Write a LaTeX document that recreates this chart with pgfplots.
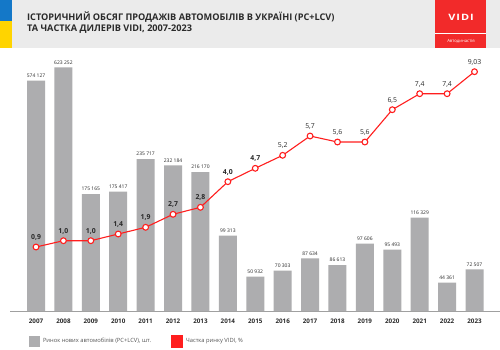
\documentclass[border=0pt]{standalone}
\usepackage{pgfplots}
\pgfplotsset{compat=1.18}
\usepackage{pgfplotstable}
\usepackage{fontspec}
\setmainfont{Open Sans}
\definecolor{hdrgrey}{HTML}{EBEBEB}
\definecolor{uablue}{HTML}{1478C8}
\definecolor{uayellow}{HTML}{FFD400}
\definecolor{vidired}{HTML}{F22A2A}
\definecolor{lred}{HTML}{FF1E1E}
\definecolor{bargrey}{HTML}{ADADAF}
\definecolor{axgrey}{HTML}{A0A0A0}
\definecolor{txt}{HTML}{2A2A2A}
\definecolor{legtxt}{HTML}{555555}

% bar heights as drawn (the chart is not to scale), labels are the sales
\pgfplotstableread[col sep=semicolon]{
idx;h;label
0;230.3;574 127
1;243.6;623 252
2;117;175 165
3;119.3;175 417
4;152;235 717
5;145.7;232 184
6;139;216 170
7;75.3;99 313
8;34.3;50 932
9;40.3;70 303
10;52.7;87 634
11;46;86 613
12;67.3;97 606
13;61.3;95 493
14;93.3;116 329
15;28.3;44 361
16;41.7;72 507
}\bars

\pgfplotstableread[col sep=semicolon]{
idx;h;label
0;64;\textbf{0,9}
1;70.3;\textbf{1,0}
2;70.3;\textbf{1,0}
3;77;\textbf{1,4}
4;83.7;\textbf{1,9}
5;96.7;\textbf{2,7}
6;103.7;\textbf{2,8}
7;129.3;\textbf{4,0}
8;142.7;\textbf{4,7}
9;155.7;5,2
10;175;5,7
11;169;5,6
12;169;5,6
13;201.3;6,5
14;217.3;7,4
15;217.3;7,4
16;239.3;9,03
}\share

\begin{document}
\begin{tikzpicture}
\path[use as bounding box] (0,0) rectangle (500bp,-350bp);
\fill[white] (0,0) rectangle (500bp,-350bp);
% header
\fill[hdrgrey] (0,0) rectangle (500bp,-47.5bp);
\fill[uablue] (0,0) rectangle (11.5bp,-21bp);
\fill[uayellow] (0,-21bp) rectangle (11.5bp,-47.5bp);
\node[anchor=base west, inner sep=0, text=txt, font=\bfseries\fontsize{9.2}{11}\selectfont] at (27bp,-20bp) {ІСТОРИЧНИЙ ОБСЯГ ПРОДАЖІВ АВТОМОБІЛІВ В УКРАЇНІ (PC+LCV)};
\node[anchor=base west, inner sep=0, text=txt, font=\bfseries\fontsize{9.2}{11}\selectfont] at (27bp,-31.7bp) {ТА ЧАСТКА ДИЛЕРІВ VIDI, 2007-2023};
% logo
\fill[vidired] (435bp,0) rectangle (486bp,-47.5bp);
\draw[white, line width=0.6bp] (435bp,-33bp) -- (486bp,-33bp);
\node[text=white, inner sep=0, xscale=1.25, font=\bfseries\fontsize{8.8}{9}\selectfont] at (461bp,-17.5bp) {V\kern0.8bp I\kern0.8bp D\kern0.8bp I};
\node[text=white, inner sep=0, font=\fontsize{4.3}{5}\selectfont] at (461bp,-41bp) {Автодинастія};

\begin{axis}[
  at={(10bp,-311bp)}, anchor=south west,
  scale only axis, width=490bp, height=250bp,
  xmin=-0.949, xmax=16.93, ymin=0, ymax=250,
  axis x line=bottom, axis y line=none,
  x axis line style={draw=axgrey, line width=0.9bp, -},
  xtick={0,...,16},
  xticklabels={2007,2008,2009,2010,2011,2012,2013,2014,2015,2016,2017,2018,2019,2020,2021,2022,2023},
  major tick length=0pt,
  xticklabel style={anchor=base, yshift=-12.3bp, text=txt, font=\bfseries\fontsize{6.3}{7}\selectfont},
  clip=false,
  legend columns=2,
  legend style={at={(0.0388,-0.122)}, anchor=west, draw=none, fill=none, inner sep=0pt,
     font=\fontsize{5.8}{6.5}\selectfont, text=legtxt,
     nodes={inner sep=2.8bp},
     /tikz/every even column/.append style={column sep=17bp}},
  legend cell align=left,
]
\addplot[ybar, bar width=18bp, fill=bargrey, draw=none,
  point meta=explicit symbolic, nodes near coords={\pgfplotspointmeta},
  nodes near coords style={font=\fontsize{5}{6}\selectfont, text=txt, anchor=base, yshift=3.2bp, inner sep=0pt},
  legend image code/.code={\fill[bargrey] (0bp,-5.5bp) rectangle (11bp,5.5bp);}]
  table[x=idx, y=h, meta=label] \bars;
\addlegendentry{Ринок нових автомобілів (PC+LCV), шт.}
\addplot[draw=lred, line width=1.1bp, mark=*, mark size=2.9bp,
  mark options={fill=white, draw=lred, line width=1.1bp},
  point meta=explicit symbolic, nodes near coords={\pgfplotspointmeta},
  nodes near coords style={font=\fontsize{6.9}{7}\selectfont, text=txt, anchor=base, yshift=7.4bp, inner sep=0pt},
  legend image code/.code={\fill[lred] (0bp,-5.5bp) rectangle (11bp,5.5bp);}]
  table[x=idx, y=h, meta=label] \share;
\addlegendentry{Частка ринку VIDI, \%}
\end{axis}
\end{tikzpicture}
\end{document}
